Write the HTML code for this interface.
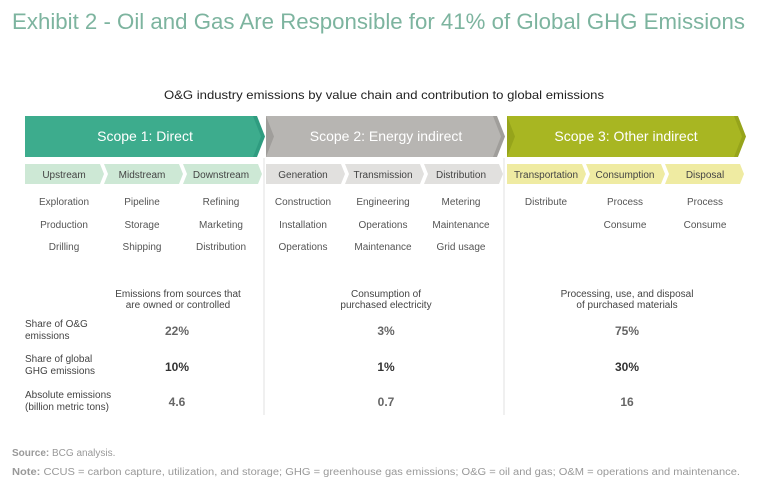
<!DOCTYPE html>
<html><head><meta charset="utf-8"><style>
body{margin:0;background:#fff;}
svg{display:block;font-family:"Liberation Sans",sans-serif;}
</style></head><body>
<svg width="768" height="491" viewBox="0 0 768 491">
<text x="12" y="29" font-size="22" fill="#7db49f" textLength="733" lengthAdjust="spacingAndGlyphs">Exhibit 2 - Oil and Gas Are Responsible for 41% of Global GHG Emissions</text>
<text x="384" y="99" font-size="12" fill="#222" text-anchor="middle" textLength="440" lengthAdjust="spacingAndGlyphs">O&amp;G industry emissions by value chain and contribution to global emissions</text>

<g>
<line x1="264" y1="158" x2="264" y2="415" stroke="#ececec" stroke-width="1.5"/>
<line x1="504" y1="158" x2="504" y2="415" stroke="#ececec" stroke-width="1.5"/>
</g>

<g>
<polygon points="25,116 257,116 265,136.5 257,157 25,157" fill="#2f9c80"/>
<polygon points="25,116 253,116 261,136.5 253,157 25,157" fill="#3dac8d"/>
<text x="145" y="141" font-size="14" fill="#fff" text-anchor="middle">Scope 1: Direct</text>
</g>
<g>
<polygon points="266,116 497,116 505,136.5 497,157 266,157" fill="#a09e9b"/>
<polygon points="266,116 274,136.5 266,157 493,157 501,136.5 493,116" fill="#b7b5b2"/>
<text x="386" y="141" font-size="14" fill="#fff" text-anchor="middle">Scope 2: Energy indirect</text>
</g>
<g>
<polygon points="507,116 738,116 746,136.5 738,157 507,157" fill="#96a41b"/>
<polygon points="507,116 515,136.5 507,157 734,157 742,136.5 734,116" fill="#a8b622"/>
<text x="626" y="141" font-size="14" fill="#fff" text-anchor="middle">Scope 3: Other indirect</text>
</g>

<g font-size="10" fill="#444" text-anchor="middle">
<polygon points="25,164 100,164 104,174 100,184 25,184" fill="#cde8d5"/><text x="64" y="178">Upstream</text>
<polygon points="104,164 179,164 183,174 179,184 104,184 108,174" fill="#cde8d5"/><text x="142" y="178">Midstream</text>
<polygon points="183,164 258,164 262,174 258,184 183,184 187,174" fill="#cde8d5"/><text x="221" y="178">Downstream</text>
<polygon points="266,164 341,164 345,174 341,184 266,184" fill="#e1e0de"/><text x="303" y="178">Generation</text>
<polygon points="345,164 420,164 424,174 420,184 345,184 349,174" fill="#e1e0de"/><text x="383" y="178">Transmission</text>
<polygon points="424,164 499,164 503,174 499,184 424,184 428,174" fill="#e1e0de"/><text x="461" y="178">Distribution</text>
<polygon points="507,164 582,164 586,174 582,184 507,184" fill="#efeba2"/><text x="546" y="178">Transportation</text>
<polygon points="586,164 661,164 665,174 661,184 586,184 590,174" fill="#efeba2"/><text x="625" y="178">Consumption</text>
<polygon points="665,164 740,164 744,174 740,184 665,184 669,174" fill="#efeba2"/><text x="705" y="178">Disposal</text>
</g>

<g font-size="10" fill="#555" text-anchor="middle">
<text x="64" y="205">Exploration</text><text x="64" y="228">Production</text><text x="64" y="250">Drilling</text>
<text x="142" y="205">Pipeline</text><text x="142" y="228">Storage</text><text x="142" y="250">Shipping</text>
<text x="221" y="205">Refining</text><text x="221" y="228">Marketing</text><text x="221" y="250">Distribution</text>
<text x="303" y="205">Construction</text><text x="303" y="228">Installation</text><text x="303" y="250">Operations</text>
<text x="383" y="205">Engineering</text><text x="383" y="228">Operations</text><text x="383" y="250">Maintenance</text>
<text x="461" y="205">Metering</text><text x="461" y="228">Maintenance</text><text x="461" y="250">Grid usage</text>
<text x="546" y="205">Distribute</text>
<text x="625" y="205">Process</text><text x="625" y="228">Consume</text>
<text x="705" y="205">Process</text><text x="705" y="228">Consume</text>
</g>

<g font-size="10" fill="#444" text-anchor="middle">
<text x="178" y="297">Emissions from sources that</text><text x="178" y="308">are owned or controlled</text>
<text x="386" y="297">Consumption of</text><text x="386" y="308">purchased electricity</text>
<text x="627" y="297">Processing, use, and disposal</text><text x="627" y="308">of purchased materials</text>
</g>

<g font-size="10" fill="#444">
<text x="25" y="327">Share of O&amp;G</text><text x="25" y="339">emissions</text>
<text x="25" y="362">Share of global</text><text x="25" y="374">GHG emissions</text>
<text x="25" y="398">Absolute emissions</text><text x="25" y="410">(billion metric tons)</text>
</g>

<g font-size="12" font-weight="bold" text-anchor="middle">
<text x="177" y="335" fill="#666">22%</text><text x="386" y="335" fill="#666">3%</text><text x="627" y="335" fill="#666">75%</text>
<text x="177" y="371" fill="#333">10%</text><text x="386" y="371" fill="#333">1%</text><text x="627" y="371" fill="#333">30%</text>
<text x="177" y="406" fill="#666">4.6</text><text x="386" y="406" fill="#666">0.7</text><text x="627" y="406" fill="#666">16</text>
</g>

<text x="12" y="456" font-size="10" fill="#999"><tspan font-weight="bold">Source:</tspan> BCG analysis.</text>
<text x="12" y="475" font-size="10" fill="#999" textLength="728" lengthAdjust="spacingAndGlyphs"><tspan font-weight="bold">Note:</tspan> CCUS = carbon capture, utilization, and storage; GHG = greenhouse gas emissions; O&amp;G = oil and gas; O&amp;M = operations and maintenance.</text>
</svg>
</body></html>
